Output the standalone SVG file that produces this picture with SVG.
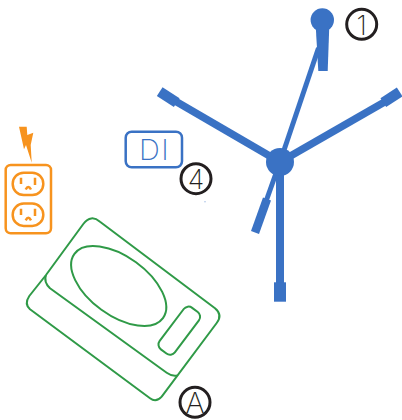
<svg xmlns="http://www.w3.org/2000/svg" width="402" height="420" viewBox="0 0 402 420">
<style>
.b{fill:none;stroke:#3a72c4;stroke-linecap:butt}
.g{fill:none;stroke:#2f9a47;stroke-width:2;stroke-linejoin:round}
.o{fill:none;stroke:#f7931e;stroke-width:2.5}
.c{fill:#fff;stroke:#231f20;stroke-width:3}
.l{font-family:"Inter","Roboto","Liberation Sans",sans-serif;font-weight:200;text-anchor:middle}
</style>
<rect width="402" height="420" fill="#fff"/>
<g id="connectors">
<path class="b" stroke-width="5" d="M280 162L318.500 48"/>
<path class="b" stroke-width="5" d="M280 162L266.500 200"/>
<path class="b" stroke-width="8.500" d="M267 199L255 232.500"/>
<path class="b" stroke-width="7.500" d="M280 162L170 98"/>
<path class="b" stroke-width="10.500" d="M176.700 102.700L159.700 91.700"/>
<path class="b" stroke-width="7.500" d="M280 162L388 100"/>
<path class="b" stroke-width="10.500" d="M383.300 102.700L399.700 92"/>
<path class="b" stroke-width="8" d="M280 162V285"/>
<path class="b" stroke-width="12" d="M280 282.300V301.700"/>
</g>
<g id="hub"><circle cx="280" cy="162" r="14" fill="#3a72c4"/></g>
<g id="sensor">
<circle cx="322.300" cy="20" r="11.700" fill="#3a72c4"/>
<path d="M315.700 26H329.300L327.700 71H318.300Z" fill="#3a72c4"/>
</g>
<g id="label-1"><circle class="c" cx="361.700" cy="24.300" r="15"/><text class="l" x="361.700" y="34.500" font-size="27" fill="#231f20">1</text></g>
<g id="di">
<rect x="125.700" y="131.700" width="56.300" height="35.600" rx="6" fill="none" stroke="#3a72c4" stroke-width="2.500"/>
<text class="l" x="154.500" y="160" font-size="29" letter-spacing="1.500" fill="#3a72c4">DI</text>
</g>
<g id="label-4"><circle class="c" cx="196" cy="178.700" r="15"/><text class="l" x="196" y="188.800" font-size="27" fill="#231f20">4</text></g>
<circle cx="205" cy="201.700" r="0.500" fill="#3a72c4"/>
<g id="outlet">
<path d="M19 126.700H26.700L27.300 135L33.300 132.700L30.700 145L31.700 162.700L26 145L24 149.300Z" fill="#f7931e"/>
<rect class="o" x="5.700" y="165" width="45.300" height="68.300" rx="5"/>
<rect class="o" x="12.700" y="172.700" width="30.600" height="22.300" rx="11"/>
<rect class="o" x="12.700" y="203.600" width="30.600" height="22.300" rx="11"/>
<path class="o" d="M21 177.700V184M35 177.700V185M25.700 189.500Q28.300 184.500 31 189.500M21 208.700V215M35 208.700V216M25.700 220.300Q28.300 215.300 31 220.300"/>
</g>
<g id="device">
<path class="g" d="M46 275L83.300 224Q91 214 100 221.700L215 308.300Q223 315 216.700 323L161.700 396.700Q156 403 150 398.300L30 309.300Q24 304 29.300 296Z"/>
<path class="g" d="M46 275Q43.500 282 50 288.300L166.700 372.700Q172 376.500 177 375.500"/>
<ellipse class="g" cx="118.700" cy="286" rx="54.700" ry="29.400" transform="rotate(36 118.700 286)"/>
<rect class="g" x="153.300" y="321.200" width="52" height="19" rx="6" transform="rotate(-53 179.300 330.700)"/>
</g>
<g id="label-a"><circle class="c" cx="195" cy="402.300" r="15"/><text class="l" x="195" y="413" font-size="29" fill="#231f20">A</text></g>
</svg>
